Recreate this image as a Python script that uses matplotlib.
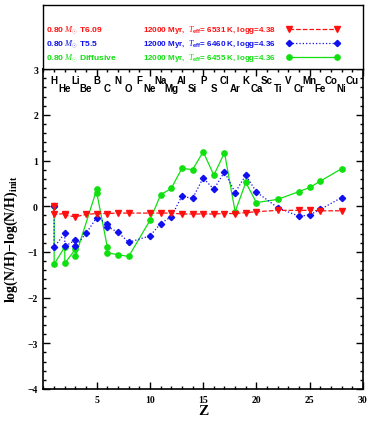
import numpy as np
import matplotlib
matplotlib.use("Agg")
import matplotlib.pyplot as plt
from matplotlib.ticker import MultipleLocator

# abundance curves, isotopes give repeated Z values
z_t609 = [1, 1, 2, 2, 3, 4, 5, 6, 7, 8, 10, 11, 12, 13, 14, 15, 16, 17, 18, 19, 20, 22, 24, 25, 26, 28]
v_t609 = [0.0, -0.18, -0.16, -0.2, -0.23, -0.18, -0.16, -0.16, -0.15, -0.15, -0.15, -0.15, -0.15,
          -0.17, -0.17, -0.17, -0.17, -0.16, -0.16, -0.14, -0.12, -0.09, -0.09, -0.09, -0.1, -0.1]

z_t55 = [1, 1, 2, 2, 3, 3, 4, 5, 6, 6, 7, 8, 10, 11, 12, 13, 14, 15, 16, 17, 18, 19, 20, 22, 24, 25, 26, 28]
v_t55 = [0.0, -0.9, -0.59, -0.88, -0.74, -0.88, -0.59, -0.25, -0.38, -0.45, -0.57, -0.79, -0.65, -0.38,
         -0.23, 0.22, 0.17, 0.62, 0.37, 0.75, 0.3, 0.68, 0.31, -0.03, -0.22, -0.19, -0.07, 0.19]

z_diff = [1, 1, 2, 2, 3, 3, 5, 5, 6, 6, 7, 8, 10, 11, 12, 13, 14, 15, 16, 17, 18, 19, 20, 22, 24, 25, 26, 28]
v_diff = [0.0, -1.27, -0.89, -1.25, -0.94, -1.1, 0.37, 0.3, -0.9, -1.02, -1.06, -1.1, -0.31, 0.25,
          0.39, 0.83, 0.8, 1.19, 0.68, 1.17, -0.12, 0.52, 0.08, 0.15, 0.32, 0.41, 0.55, 0.82]

elements = ["H", "He", "Li", "Be", "B", "C", "N", "O", "F", "Ne", "Na", "Mg", "Al", "Si", "P",
            "S", "Cl", "Ar", "K", "Ca", "Sc", "Ti", "V", "Cr", "Mn", "Fe", "Co", "Ni", "Cu"]

models = ["0.80 $M_{\\odot}$ T6.09", "0.80 $M_{\\odot}$ T5.5", "0.80 $M_{\\odot}$ Diffusive"]
infos = ["12000 Myr,  $T_{\\rm eff}$= 6531 K, logg=4.38",
         "12000 Myr,  $T_{\\rm eff}$= 6460 K, logg=4.36",
         "12000 Myr,  $T_{\\rm eff}$= 6455 K, logg=4.36"]

red = "#ff1010"
blue = "#1010ee"
green = "#10e010"
styles = [dict(color=red, ls="--", marker="v", ms=4.2),
          dict(color=blue, ls=":", marker="D", ms=3.2),
          dict(color=green, ls="-", marker="o", ms=3.8)]

plt.rcParams["mathtext.fontset"] = "custom"
plt.rcParams["mathtext.rm"] = "Liberation Sans:bold"
plt.rcParams["mathtext.it"] = "Liberation Serif:italic"
plt.rcParams["mathtext.bf"] = "Liberation Serif:bold"

fig = plt.figure(figsize=(3.74, 4.27), dpi=100)
ax = fig.add_axes([0.1163, 0.0867, 0.854, 0.749])
lax = fig.add_axes([0.1163, 0.836, 0.854, 0.150])

ax.plot(z_diff, v_diff, lw=0.9, zorder=2, **styles[2])
ax.plot(z_t55, v_t55, lw=0.9, zorder=3, **styles[1])
ax.plot(z_t609, v_t609, lw=0.9, zorder=4, **styles[0])

ax.set_xlim(0, 30)
ax.set_ylim(-4, 3)
ax.xaxis.set_major_locator(MultipleLocator(5))
ax.xaxis.set_minor_locator(MultipleLocator(1))
ax.yaxis.set_major_locator(MultipleLocator(1))
ax.yaxis.set_minor_locator(MultipleLocator(0.2))
ax.tick_params(which="both", direction="in", top=True, right=True, width=1)
ax.tick_params(which="major", length=5)
ax.tick_params(which="minor", length=2.5)
for s in ax.spines.values():
    s.set_linewidth(1.2)

tfont = dict(family="Liberation Serif", weight="bold", size=7)
ax.set_xticks([5, 10, 15, 20, 25, 30])
ax.set_xticklabels(["5", "10", "15", "20", "25", "30"], **tfont)
ax.set_yticks([-4, -3, -2, -1, 0, 1, 2, 3])
ax.set_yticklabels(["\u22124", "\u22123", "\u22122", "\u22121", "0", "1", "2", "3"], **tfont)
ax.tick_params(axis="both", pad=4)

ax.set_xlabel("Z", family="Liberation Serif", weight="bold", size=11, labelpad=0)
ax.set_ylabel("log(N/H)\u2212log(N/H)$_{\\mathbf{init}}$", family="Liberation Serif",
              weight="bold", size=10)
ax.yaxis.set_label_coords(-0.075, 0.47)

for i, el in enumerate(elements):
    zz = i + 1
    yy = 2.76 if zz % 2 == 1 else 2.58
    ax.text(zz, yy, el, ha="center", va="center", fontsize=7, fontweight="bold",
            family="Liberation Sans")

# legend panel
lax.set_xlim(0, 1)
lax.set_ylim(0, 1)
lax.set_xticks([])
lax.set_yticks([])
for s in lax.spines.values():
    s.set_linewidth(1.0)
rows = [0.62, 0.40, 0.19]
for k in range(3):
    col = styles[k]["color"]
    lax.text(0.008, rows[k], models[k], color=col, fontsize=6.1, fontweight="bold",
             family="Liberation Sans", va="center", ha="left")
    lax.text(0.31, rows[k], infos[k], color=col, fontsize=5.8, fontweight="bold",
             family="Liberation Sans", va="center", ha="left")
    lax.plot([0.768, 0.918], [rows[k], rows[k]], lw=0.9, **styles[k])

fig.savefig("out.png", dpi=100)
